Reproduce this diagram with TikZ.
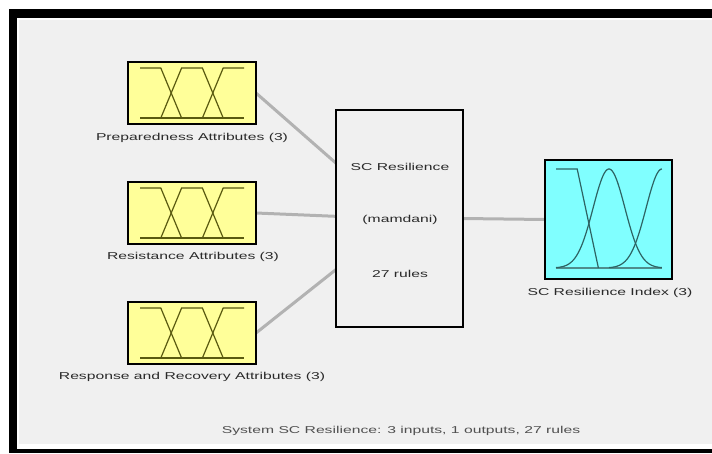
\documentclass[tikz,border=0pt]{standalone}
\usepackage{fontspec}
\setmainfont{Liberation Sans}
\newfontfamily\fislabel[FakeStretch=1.57]{Liberation Sans}
\usetikzlibrary{calc}

\definecolor{panelgray}{HTML}{F0F0F0}
\definecolor{inyellow}{HTML}{FFFF99}
\definecolor{outcyan}{HTML}{80FFFF}
\definecolor{mfolive}{HTML}{5A5A10}
\definecolor{mfteal}{HTML}{2E6464}
\definecolor{mfbase}{HTML}{4E8C8C}
\definecolor{linkgray}{HTML}{B2B2B2}
\definecolor{labeltext}{HTML}{2A2A2A}
\definecolor{summarytext}{HTML}{505050}

\tikzset{
  varbox/.style={draw=black, line width=2.6pt, inner sep=0pt, outer sep=0pt,
                 minimum width=128pt, minimum height=62pt},
  inbox/.style={varbox, fill=inyellow},
  outbox/.style={varbox, fill=outcyan, minimum width=127pt, minimum height=119pt},
  sysbox/.style={draw=black, line width=2pt, fill=panelgray, inner sep=0pt, outer sep=0pt,
                 minimum width=127pt, minimum height=217pt},
  varlabel/.style={font=\fislabel\fontsize{10}{12}\selectfont, text=labeltext, inner sep=0pt},
  summary/.style={varlabel, text=summarytext},
  link/.style={draw=linkgray, line width=3pt},
  inmf/.style={draw=mfolive, line width=1.2pt},
  outmf/.style={draw=mfteal, line width=1.2pt},
}

\begin{document}
\begin{tikzpicture}[x=1pt, y=-1pt]
  \useasboundingbox (0,0) rectangle (712,453);
  % window frame
  \fill[white] (0,0) rectangle (712,453);
  \fill[black] (9,9) rectangle (712,17.5);
  \fill[black] (9,9) rectangle (16.5,453);
  \fill[black] (9,449) rectangle (712,453);
  \fill[panelgray] (19,20) rectangle (712,444);

  % input variables
  \node[inbox] (in1) at (192,93) {};
  \node[inbox] (in2) at (192,213) {};
  \node[inbox] (in3) at (192,333) {};
  \node[varlabel] (lab1) at (192,138) {Preparedness Attributes (3)};
  \node[varlabel] (lab2) at (193,257) {Resistance Attributes (3)};
  \node[varlabel] (lab3) at (192,377) {Response and Recovery Attributes (3)};

  % three trapezoidal membership functions in each input box
  \foreach \b in {in1,in2,in3}{
    \begin{scope}[shift={(\b.north west)}]
      \draw[inmf] (12,56) -- (116,56);
      \draw[inmf] (12,6) -- (32.8,6) -- (53.6,56);
      \draw[inmf] (32.8,56) -- (53.6,6) -- (74.4,6) -- (95.2,56);
      \draw[inmf] (74.4,56) -- (95.2,6) -- (116,6);
    \end{scope}
  }

  % rule system
  \node[sysbox] (sys) at (399.5,218.5) {};
  \node[varlabel] (sysname) at (400,167) {SC Resilience};
  \node[varlabel] (systype) at (400,220) {(mamdani)};
  \node[varlabel] (sysrules) at (400,274) {27 rules};

  % output variable
  \node[outbox] (out) at (608.5,219.5) {};
  \node[varlabel] (outlab) at (610,293) {SC Resilience Index (3)};
  \begin{scope}[shift={(out.north west)}]
    \draw[draw=mfbase, line width=2pt] (11,108) -- (117,108);
    \draw[outmf] (11,9) -- (32.2,9) -- (53.4,108);
    \draw[outmf] plot[domain=0:1, samples=80, smooth]
      ({11+106*\x}, {108-99*exp(-(\x-0.5)*(\x-0.5)/0.045)});
    \draw[outmf] plot[domain=0.5:1, samples=50, smooth]
      ({11+106*\x}, {108-99*exp(-(\x-1)*(\x-1)/0.045)});
  \end{scope}

  % connections into and out of the rule system
  \coordinate (s1) at ($(sys.north west)!0.245!(sys.south west)$);
  \coordinate (s2) at ($(sys.north west)!0.49!(sys.south west)$);
  \coordinate (s3) at ($(sys.north west)!0.735!(sys.south west)$);
  \draw[link] (in1.east) -- (s1);
  \draw[link] (in2.east) -- (s2);
  \draw[link] (in3.east) -- (s3);
  \draw[link] (sys.east) -- (out.west);

  % borders drawn again over the link ends
  \draw[black, line width=2pt] (sys.north west) rectangle (sys.south east);
  \foreach \b in {in1,in2,in3,out}{
    \draw[black, line width=2.6pt] (\b.north west) rectangle (\b.south east);
  }

  \node[summary] (info) at (401,431) {System SC Resilience: 3 inputs, 1 outputs, 27 rules};
\end{tikzpicture}
\end{document}
